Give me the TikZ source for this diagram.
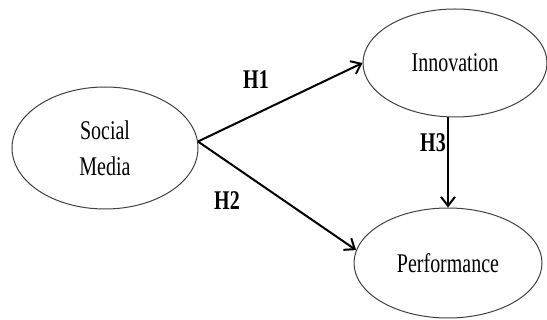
\documentclass[tikz,border=0pt]{standalone}
\usepackage{fontspec}
\setmainfont{Liberation Serif}
\usetikzlibrary{arrows.meta,shapes.geometric}
\begin{document}
\begin{tikzpicture}[x=1pt,y=-1pt,
  construct/.style={draw=black!75, line width=1pt, ellipse, inner sep=0pt, font=\fontsize{27}{32}\selectfont, align=center},
  hyp/.style={font=\fontsize{27}{32}\selectfont\bfseries},
  hpath/.style={draw, line width=2pt, -{Straight Barb[length=9pt,width=14pt,line width=2pt]}}]
\useasboundingbox (0,0) rectangle (547,320);
\node[construct, minimum width=186pt, minimum height=122pt] (sm) at (105,148) {\scalebox{0.74}[1]{Social}\\[4pt]\scalebox{0.74}[1]{Media}};
\node[construct, minimum width=184pt, minimum height=108pt] (inn) at (455,63) {\scalebox{0.74}[1]{Innovation}};
\node[construct, minimum width=188pt, minimum height=110pt] (perf) at (448,263) {\scalebox{0.74}[1]{Performance}};
\draw[hpath] (sm.4) -- (inn.west);
\draw[hpath] (sm.4) -- (perf.172);
\draw[hpath, line width=1.5pt] (inn.south -| perf.north) -- (perf.north);
\node[hyp] (h1) at (256,80) {\scalebox{0.74}[1]{H1}};
\node[hyp] (h2) at (227,201) {\scalebox{0.74}[1]{H2}};
\node[hyp] (h3) at (433,143) {\scalebox{0.74}[1]{H3}};
\end{tikzpicture}
\end{document}
